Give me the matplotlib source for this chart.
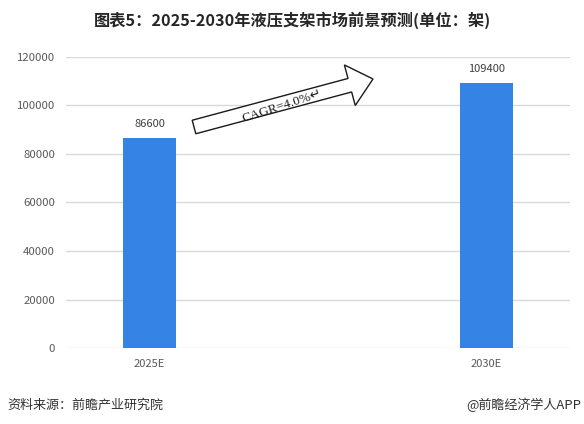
import matplotlib.pyplot as plt
from matplotlib.patches import FancyArrow
from matplotlib.transforms import IdentityTransform

plt.rcParams['font.family'] = ['Noto Sans CJK SC', 'DejaVu Sans']

categories = ['2025E', '2030E']
values = [86600, 109400]
yticks = [0, 20000, 40000, 60000, 80000, 100000, 120000]

title = '图表5：2025-2030年液压支架市场前景预测(单位：架)'
source = '资料来源：前瞻产业研究院'
brand = '@前瞻经济学人APP'

fig = plt.figure(figsize=(5.84, 4.24), dpi=100)
ax = fig.add_axes([0.113, 0.179, 0.863, 0.687])

x = list(range(len(categories)))
bars = ax.bar(x, values, width=0.157, color='#3583e4', zorder=3)
for xi, v in zip(x, values):
    ax.text(xi, v + 3500, str(v), ha='center', va='bottom', fontsize=8, color='#404040')

ax.set_xlim(-0.248, 1.248)
ax.set_ylim(0, 120000)
ax.set_xticks(x)
ax.set_xticklabels(categories, fontsize=8, color='#595959')
ax.set_yticks(yticks)
ax.set_yticklabels([str(t) for t in yticks], fontsize=8.2, color='#595959')
ax.tick_params(length=0, pad=8)
ax.yaxis.grid(True, color='#d9d9d9', linewidth=1, zorder=0)
for s in ax.spines.values():
    s.set_visible(False)

# CAGR arrow (drawn in pixel coordinates)
arrow = FancyArrow(194, 297, 179, 48, width=14, head_width=42, head_length=24,
                   length_includes_head=True, transform=IdentityTransform(),
                   facecolor='white', edgecolor='#1a1a1a', linewidth=1, zorder=5)
fig.patches.append(arrow)
fig.text(282 / 584, 1 - 106 / 424, 'CAGR=4.0%↵', family=['Liberation Serif', 'DejaVu Sans'],
         fontsize=9.5, rotation=18, ha='center', va='center', color='#1a1a1a', zorder=6)

fig.text(0.5, 1 - 20 / 424, title, ha='center', va='center', fontsize=11.7,
         fontweight='bold', color='#262626')
fig.text(7 / 584, 1 - 405 / 424, source, ha='left', va='center', fontsize=9.4, color='#333333')
fig.text(581 / 584, 1 - 405 / 424, brand, ha='right', va='center', fontsize=9.4, color='#333333')

fig.savefig('out.png', dpi=100)
